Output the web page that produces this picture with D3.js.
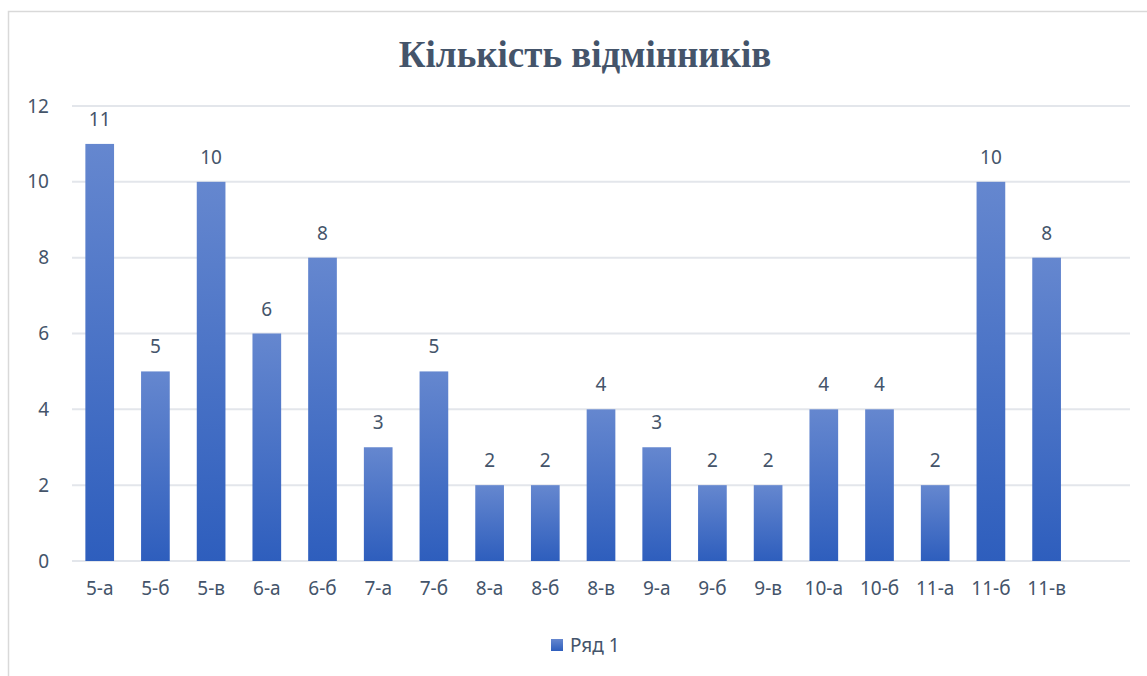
<!DOCTYPE html>
<html>
<head>
<meta charset="utf-8">
<title>Кількість відмінників</title>
<script src="https://d3js.org/d3.v7.min.js"></script>
<style>
body { margin: 0; background: #fff; }
</style>
</head>
<body>
<div id="chart"></div>
<script>

var classes = ["5-а", "5-б", "5-в", "6-а", "6-б", "7-а", "7-б", "8-а", "8-б", "8-в", "9-а", "9-б", "9-в", "10-а", "10-б", "11-а", "11-б", "11-в"];
var values = [11, 5, 10, 6, 8, 3, 5, 2, 2, 4, 3, 2, 2, 4, 4, 2, 10, 8];
var yTicks = [0, 2, 4, 6, 8, 10, 12];
var seriesName = "Ряд 1";
var title = "Кількість відмінників";

var width = 1147;
var height = 676;
var plotLeft = 72, plotRight = 1130, plotTop = 106, plotBottom = 561;
var textColor = "#44546a";
var font = "'Noto Sans', 'Open Sans', sans-serif";
var fontSize = "19px";

var svg = d3.select("#chart")
	.append("svg")
		.attr("width", width)
		.attr("height", height);

// chart frame
svg.append("rect")
	.attr("x", 8.5)
	.attr("y", 11.5)
	.attr("width", 1150)
	.attr("height", 700)
	.attr("fill", "none")
	.attr("stroke", "#d9d9d9")
	.attr("stroke-width", 1.5);

var grad = svg.append("defs").append("linearGradient")
	.attr("id", "barFill")
	.attr("x1", 0).attr("y1", 0)
	.attr("x2", 0).attr("y2", 1);
grad.append("stop").attr("offset", "0%").attr("stop-color", "#6587cf");
grad.append("stop").attr("offset", "100%").attr("stop-color", "#2e5ebd");

// the plot area leaves one empty slot on the right, like the original
var x = d3.scaleBand()
	.domain(classes)
	.range([plotLeft, plotLeft + (plotRight - plotLeft) * classes.length / (classes.length + 1)])
	.paddingInner(0.485)
	.paddingOuter(0.24);

var y = d3.scaleLinear()
	.domain([0, 12])
	.range([plotBottom, plotTop]);

svg.append("text")
	.text(title)
	.attr("x", 585)
	.attr("y", 67)
	.style("text-anchor", "middle")
	.style("font-family", "'Liberation Serif', 'DejaVu Serif', serif")
	.style("font-weight", "bold")
	.style("font-size", "37px")
	.style("fill", textColor);

// gridlines
svg.append("g")
	.selectAll("line")
	.data(yTicks)
	.enter()
	.append("line")
		.attr("x1", plotLeft)
		.attr("x2", plotRight)
		.attr("y1", function(d) { return y(d); })
		.attr("y2", function(d) { return y(d); })
		.style("stroke", "#e3e6eb")
		.style("stroke-width", 2);

var yAxis = svg.append("g")
	.attr("transform", "translate(49,0)")
	.call(d3.axisLeft(y).tickValues(yTicks).tickSize(0).tickPadding(0));
yAxis.select(".domain").remove();
yAxis.selectAll("text")
	.style("font-family", font)
	.style("font-size", fontSize)
	.style("fill", textColor);

var xAxis = svg.append("g")
	.attr("transform", "translate(0," + plotBottom + ")")
	.call(d3.axisBottom(x).tickSize(0).tickPadding(21));
xAxis.select(".domain").remove();
xAxis.selectAll("text")
	.style("font-family", font)
	.style("font-size", fontSize)
	.style("fill", textColor);

var rows = classes.map(function(c, i) { return {key: c, value: values[i]}; });

svg.append("g")
	.selectAll("rect")
	.data(rows)
	.enter()
	.append("rect")
		.attr("x", function(d) { return x(d.key); })
		.attr("y", function(d) { return y(d.value); })
		.attr("width", x.bandwidth())
		.attr("height", function(d) { return y(0) - y(d.value); })
		.attr("fill", "url(#barFill)");

svg.append("g")
	.selectAll("text")
	.data(rows)
	.enter()
	.append("text")
		.text(function(d) { return d.value; })
		.attr("x", function(d) { return x(d.key) + x.bandwidth() / 2; })
		.attr("y", function(d) { return y(d.value) - 18; })
		.style("text-anchor", "middle")
		.style("font-family", font)
		.style("font-size", fontSize)
		.style("fill", textColor);

// legend
var legend = svg.append("g");
legend.append("rect")
	.attr("x", 551)
	.attr("y", 639)
	.attr("width", 12)
	.attr("height", 12)
	.attr("fill", "url(#barFill)");
legend.append("text")
	.text(seriesName)
	.attr("x", 570)
	.attr("y", 652)
	.style("font-family", font)
	.style("font-size", fontSize)
	.style("fill", textColor);

</script>
</body>
</html>
